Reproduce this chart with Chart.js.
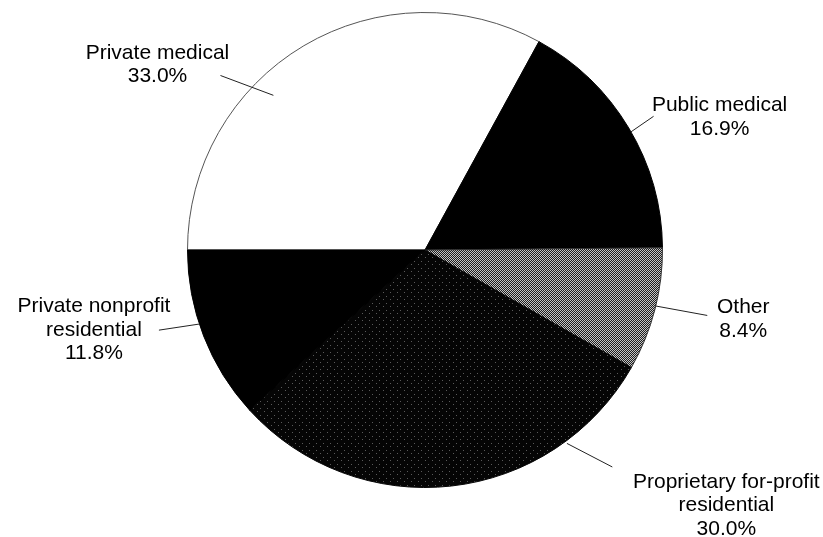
<!DOCTYPE html>
<html lang="en">

<head>
	<meta charset="UTF-8">
	<title>Pie</title>
	<style>
		html, body { margin: 0; padding: 0; background: #fff; }
		#pie { display: block; }
	</style>
</head>

<body>
	<canvas id="pie" width="823" height="537"></canvas>

	<script src="https://cdn.jsdelivr.net/npm/chart.js"></script>
	<script>
		// data
		const categories = ['Private medical', 'Public medical', 'Other', 'Proprietary for-profit residential', 'Private nonprofit residential'];
		const shares = [33.0, 16.9, 8.4, 30.0, 11.8];
		const labelLines = [
			['Private medical', '33.0%'],
			['Public medical', '16.9%'],
			['Other', '8.4%'],
			['Proprietary for-profit', 'residential', '30.0%'],
			['Private nonprofit', 'residential', '11.8%']
		];

		// dithered fills, like the scanned print
		function dither(size, base, dot, dots) {
			const c = document.createElement('canvas');
			c.width = size; c.height = size;
			const g = c.getContext('2d');
			g.fillStyle = base;
			g.fillRect(0, 0, size, size);
			g.fillStyle = dot;
			dots.forEach(d => g.fillRect(d[0], d[1], 1, 1));
			return g.createPattern(c, 'repeat');
		}
		const ctx = document.getElementById('pie').getContext('2d');
		const greyFill = dither(2, '#1e1e1e', '#c4c4c4', [[0, 0], [1, 1]]);
		const darkFill = dither(7, '#050505', '#5a5a5a', [[1, 2], [5, 5]]);

		// leader lines: t = position inside the slice, k = radius factor; text offset from outer end
		const leaders = [
			{ t1: 0.384, k1: 0.912, t2: 0.341, k2: 1.132, dx: -63, dy: -17 },
			{ t1: 0.518, k1: 1.0, t2: 0.51, k2: 1.115, dx: 66, dy: -5 },
			{ t1: 0.47, k1: 0.995, t2: 0.45, k2: 1.22, dx: 36, dy: -2 },
			{ t1: 0.223, k1: 1.01, t2: 0.181, k2: 1.207, dx: 114, dy: 21 },
			{ t1: 0.572, k1: 1.0, t2: 0.605, k2: 1.17, dx: -65, dy: -18 }
		];

		const labelPlugin = {
			id: 'leaderLabels',
			afterDraw: (chart) => {
				const c = chart.ctx;
				const arcs = chart.getDatasetMeta(0).data;
				c.save();
				c.strokeStyle = '#222';
				c.lineWidth = 1;
				c.fillStyle = '#000';
				c.font = '21px "Liberation Sans", Arial, sans-serif';
				c.textAlign = 'center';
				c.textBaseline = 'alphabetic';
				arcs.forEach((arc, i) => {
					const L = leaders[i];
					const span = arc.endAngle - arc.startAngle;
					const a1 = arc.startAngle + span * L.t1;
					const a2 = arc.startAngle + span * L.t2;
					const x1 = arc.x + Math.cos(a1) * arc.outerRadius * L.k1;
					const y1 = arc.y + Math.sin(a1) * arc.outerRadius * L.k1;
					const x2 = arc.x + Math.cos(a2) * arc.outerRadius * L.k2;
					const y2 = arc.y + Math.sin(a2) * arc.outerRadius * L.k2;
					c.beginPath();
					c.moveTo(x1, y1);
					c.lineTo(x2, y2);
					c.stroke();
					labelLines[i].forEach((s, j) => {
						c.fillText(s, x2 + L.dx, y2 + L.dy + j * 23.5);
					});
				});
				c.restore();
			}
		};

		new Chart(ctx, {
			type: 'pie',
			data: {
				labels: categories,
				datasets: [{
					data: shares,
					backgroundColor: ['#ffffff', '#000000', greyFill, darkFill, '#000000'],
					borderColor: ['#555555', '#000000', '#333333', '#050505', '#000000'],
					borderWidth: 1
				}]
			},
			options: {
				responsive: false,
				animation: false,
				rotation: -90,
				layout: { padding: { left: 187, right: 160, top: 12, bottom: 49 } },
				plugins: {
					legend: { display: false },
					tooltip: { enabled: false }
				}
			},
			plugins: [labelPlugin]
		});
	</script>
</body>

</html>
